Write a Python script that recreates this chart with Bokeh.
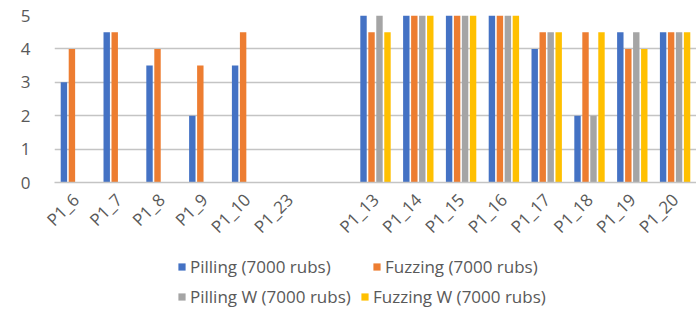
import math
from bokeh.plotting import figure
from bokeh.models import ColumnDataSource, FactorRange, Legend, LegendItem
from bokeh.layouts import column
from bokeh.transform import dodge
from bokeh.embed import file_html
from bokeh.resources import INLINE

NaN = float("nan")

categories = ["P1_6", "P1_7", "P1_8", "P1_9", "P1_10", "P1_23", " ",
              "P1_13", "P1_14", "P1_15", "P1_16", "P1_17", "P1_18", "P1_19", "P1_20"]
pilling   = [3.0, 4.5, 3.5, 2.0, 3.5, NaN, NaN, 5.0, 5.0, 5.0, 5.0, 4.0, 2.0, 4.5, 4.5]
fuzzing   = [4.0, 4.5, 4.0, 3.5, 4.5, NaN, NaN, 4.5, 5.0, 5.0, 5.0, 4.5, 4.5, 4.0, 4.5]
pilling_w = [NaN, NaN, NaN, NaN, NaN, NaN, NaN, 5.0, 5.0, 5.0, 5.0, 4.5, 2.0, 4.5, 4.5]
fuzzing_w = [NaN, NaN, NaN, NaN, NaN, NaN, NaN, 4.5, 5.0, 5.0, 5.0, 4.5, 4.5, 4.0, 4.5]
series_names = ["Pilling (7000 rubs)", "Fuzzing (7000 rubs)",
                "Pilling W (7000 rubs)", "Fuzzing W (7000 rubs)"]
colors = ["#4472C4", "#ED7D31", "#A5A5A5", "#FFC000"]

source = ColumnDataSource(dict(cat=categories, s0=pilling, s1=fuzzing,
                               s2=pilling_w, s3=fuzzing_w))

p = figure(x_range=FactorRange(*categories), y_range=(0, 5),
           width=696, height=250, output_backend="svg", toolbar_location=None,
           min_border_left=54, min_border_right=0, min_border_top=15,
           min_border_bottom=68)
p.outline_line_color = None
p.background_fill_color = "white"

offsets = [-0.28, -0.093, 0.093, 0.28]
for i, (off, col) in enumerate(zip(offsets, colors)):
    p.vbar(x=dodge("cat", off, range=p.x_range), top=f"s{i}", width=0.15,
           source=source, fill_color=col, line_color=None)

font = "Open Sans"
p.xgrid.grid_line_color = None
p.ygrid.grid_line_color = "#C4C4C4"
p.ygrid.grid_line_width = 1.5

p.yaxis.ticker = [0, 1, 2, 3, 4, 5]
p.yaxis.axis_line_color = None
p.yaxis.major_tick_line_color = None
p.yaxis.minor_tick_line_color = None
p.yaxis.major_label_text_font = font
p.yaxis.major_label_text_font_size = "17px"
p.yaxis.major_label_text_color = "#595959"
p.yaxis.major_label_standoff = 18

p.xaxis.axis_line_color = "#C4C4C4"
p.xaxis.axis_line_width = 1.5
p.xaxis.major_tick_line_color = None
p.xaxis.minor_tick_line_color = None
p.xaxis.major_label_orientation = math.pi / 4
p.xaxis.major_label_text_font = font
p.xaxis.major_label_text_font_size = "17px"
p.xaxis.major_label_text_color = "#595959"
p.xaxis.major_label_standoff = 8

# legend panel (separate figure below the chart)
lf = figure(width=696, height=60, x_range=(0, 1), y_range=(0, 1),
            x_axis_type=None, y_axis_type=None,
            output_backend="svg", toolbar_location=None, min_border=0)
lf.outline_line_color = None
lf.grid.visible = False
legend_renderers = [lf.vbar(x=[NaN], top=[NaN], width=0.1, fill_color=c, line_color=None)
                    for c in colors]

def make_legend(idx, loc, lw):
    return Legend(items=[LegendItem(label=series_names[j], renderers=[legend_renderers[j]])
                         for j in idx],
                  location=loc, orientation="horizontal", padding=0, spacing=0,
                  margin=0, border_line_color=None, background_fill_alpha=0,
                  glyph_width=9, glyph_height=9, label_standoff=4, label_width=lw,
                  label_text_font=font, label_text_font_size="17px",
                  label_text_color="#595959")

lf.add_layout(make_legend([0, 1], (123, 32), 182), "center")
lf.add_layout(make_legend([2, 3], (123, 2), 170), "center")

open("out.html", "w").write(file_html(column(p, lf, spacing=0), INLINE))
